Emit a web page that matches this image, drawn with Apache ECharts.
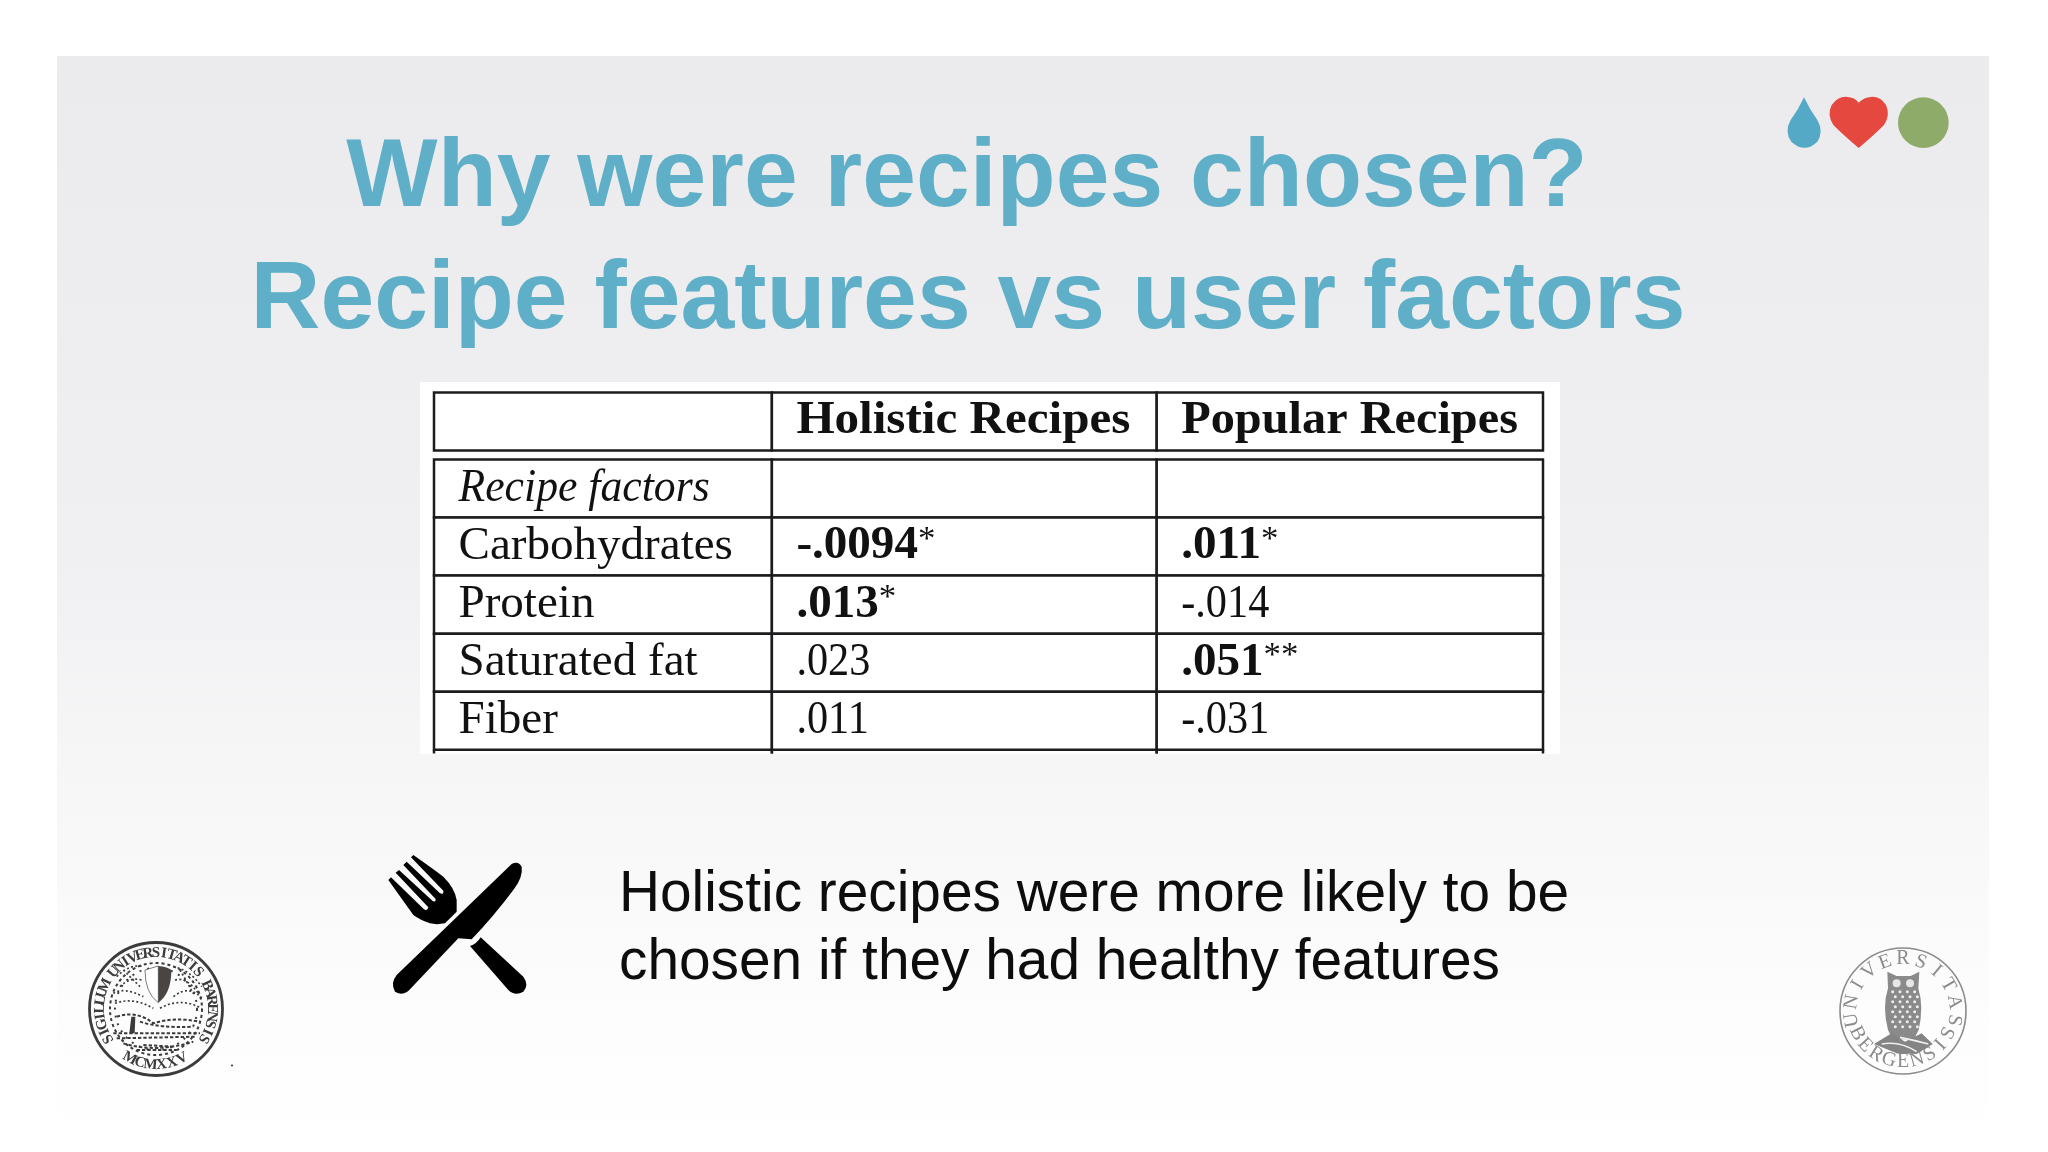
<!DOCTYPE html>
<html>
<head>
<meta charset="utf-8">
<title>Recipe features vs user factors</title>
<script src="https://cdn.jsdelivr.net/npm/echarts@6/dist/echarts.min.js"></script>
<style>
  html, body { margin: 0; background: #fff; }
  #main { width: 2048px; height: 1152px; }
</style>
</head>
<body>
<div id="main"></div>
<script>
const titleLines = ['Why were recipes chosen?', 'Recipe features vs user factors'];
const noteLines = ['Holistic recipes were more likely to be', 'chosen if they had healthy features'];

const columnHeaders = ['', 'Holistic Recipes', 'Popular Recipes'];
const rowLabels = ['Recipe factors', 'Carbohydrates', 'Protein', 'Saturated fat', 'Fiber'];
const holisticValues = ['', '-.0094', '.013', '.023', '.011'];
const holisticStars = ['', '*', '*', '', ''];
const popularValues = ['', '.011', '-.014', '.051', '-.031'];
const popularStars = ['', '*', '', '**', ''];

// table layout, x in units of the value axis (0..3), y in row heights
const colEdges = [0, 0.914, 1.955, 3];
const bodyTop = 1.155;
const tableEnd = 6.22;

const cells = [];
columnHeaders.forEach((h, c) => cells.push({ value: [c, 0], text: h, stars: '', kind: c === 2 ? 'head2' : 'head' }));
rowLabels.forEach((label, i) => {
  cells.push({ value: [0, i + 1], text: label, stars: '', kind: i === 0 ? 'italic' : 'label' });
  cells.push({ value: [1, i + 1], text: holisticValues[i], stars: holisticStars[i], kind: holisticStars[i] ? 'bold' : 'number' });
  cells.push({ value: [2, i + 1], text: popularValues[i], stars: popularStars[i], kind: popularStars[i] ? 'bold' : 'number' });
});

const SERIF = '"Liberation Serif", "DejaVu Serif", serif';
const LINE = '#1c1c1e';
// glyph widths of the source table are narrower than Liberation Serif
const kindScale = { head: 1.067, head2: 1.05, italic: 0.95, label: 1.023, number: 0.92, bold: 1.023 };

function cellFont(kind) {
  if (kind === 'head' || kind === 'head2' || kind === 'bold') return 'bold 46px ' + SERIF;
  if (kind === 'italic') return 'italic 46px ' + SERIF;
  return '46px ' + SERIF;
}

function renderCell(params, api) {
  const c = api.value(0);
  const r = api.value(1);
  const cell = cells[params.dataIndex];
  const top = r === 0 ? 0 : bodyTop + r - 1;
  const bottom = r === 0 ? 1 : top + 1;
  const p0 = api.coord([colEdges[c], top]);
  const p1 = api.coord([colEdges[c + 1], bottom]);
  const children = [{
    type: 'rect',
    shape: { x: p0[0], y: p0[1], width: p1[0] - p0[0], height: p1[1] - p0[1] },
    style: { fill: '#fff', stroke: LINE, lineWidth: 2.5 }
  }];
  if (r === rowLabels.length) {
    const stub = api.coord([0, tableEnd])[1];
    [p0[0], p1[0]].forEach(x => children.push({
      type: 'line',
      shape: { x1: x, y1: p1[1], x2: x, y2: stub },
      style: { stroke: LINE, lineWidth: 2.5 }
    }));
  }
  if (cell.text) {
    const starTag = cell.stars ? '{s|' + cell.stars + '}' : '';
    children.push({
      type: 'text',
      x: p0[0] + 24.5,
      y: (p0[1] + p1[1]) / 2,
      scaleX: kindScale[cell.kind],
      z2: 5,
      style: {
        text: '{t|' + cell.text + '}' + starTag,
        verticalAlign: 'middle',
        align: 'left',
        rich: {
          t: { font: cellFont(cell.kind), fill: '#111', lineHeight: 48 },
          s: { font: '34px ' + SERIF, fill: '#111', lineHeight: 48, verticalAlign: 'top' }
        }
      }
    });
  }
  return { type: 'group', children };
}

// one letter per text element, spread along a circle. angles clockwise from 12 o'clock
function ringText(str, cx, cy, r, fromDeg, toDeg, font, fill, flip) {
  const out = [];
  const n = str.length;
  for (let i = 0; i < n; i++) {
    const deg = fromDeg + (toDeg - fromDeg) * i / (n - 1);
    const a = deg * Math.PI / 180;
    const tilt = flip ? deg - 180 : deg;
    out.push({
      type: 'text',
      x: cx + r * Math.sin(a),
      y: cy - r * Math.cos(a),
      rotation: -tilt * Math.PI / 180,
      style: { text: str[i], font, fill, align: 'center', verticalAlign: 'middle' }
    });
  }
  return out;
}

function ring(cx, cy, r, stroke, lineWidth, lineDash) {
  return {
    type: 'circle',
    shape: { cx, cy, r },
    style: { fill: 'none', stroke, lineWidth, lineDash }
  };
}

function barisSeal() {
  const cx = 156, cy = 1009, ink = '#3c3a3a';
  return [
    ring(cx, cy, 66.5, ink, 2.8),
    ring(cx, cy, 46, ink, 2, [3, 3]),
    ring(cx, cy, 41, ink, 2, [2, 6]),
    ...ringText('SIGILLUM UNIVERSITATIS BARENSIS', cx, cy, 56, -122, 122, 'bold 15px ' + SERIF, ink),
    ...ringText('MCMXXV', cx, cy, 56, 208, 152, 'bold 15px ' + SERIF, ink, true),
    { type: 'group', x: 60, y: 820, scaleX: 1 / 3, scaleY: 1 / 3, children: [
      { type: 'path', shape: { pathData: 'M255 450 L295 438 L295 548 Q255 520 255 450 Z' }, style: { fill: '#fff', stroke: ink, lineWidth: 2 } },
      { type: 'path', shape: { pathData: 'M295 438 Q320 440 334 450 Q334 520 295 548 Z' }, style: { fill: '#4a4543' } },
      { type: 'path', shape: { pathData: 'M170 470 Q210 430 250 440 M340 440 Q390 450 425 500 M160 520 Q190 500 250 530 M340 530 Q390 490 430 540 M180 500 Q210 470 245 480 M345 480 Q380 470 415 520 M165 550 Q220 530 280 565 M300 565 Q360 530 425 565 M190 450 L240 500 M360 450 L400 520' }, style: { fill: 'none', stroke: ink, lineWidth: 5, lineDash: [6, 7] } },
      { type: 'path', shape: { pathData: 'M170 590 Q230 570 280 610 Q340 590 420 605 M160 640 L420 640 M190 670 Q290 700 400 665 M230 690 L350 690 M240 605 Q300 625 400 620 M170 655 L410 650 M250 675 L340 680' }, style: { fill: 'none', stroke: ink, lineWidth: 6, lineDash: [10, 6] } },
      { type: 'path', shape: { pathData: 'M214 590 L226 590 L224 640 L208 640 Z' }, style: { fill: ink } }
    ] },
    { type: 'circle', shape: { cx: 232, cy: 1065.5, r: 1 }, style: { fill: '#333' } }
  ];
}

function bergenSeal() {
  const cx = 1903, cy = 1011, ink = '#8b8b8c';
  const spots = [];
  for (let row = 0; row < 8; row++) {
    for (let col = 0; col < 4; col++) {
      spots.push({
        type: 'circle',
        shape: { cx: 278 + col * 22 + (row % 2) * 8, cy: 215 + row * 15, r: 4.5 },
        style: { fill: '#eeeeef' }
      });
    }
  }
  return [
    ring(cx, cy, 63, ink, 1.6),
    ...ringText('UNIVERSITAS', cx, cy, 52, -100, 100, '20px ' + SERIF, ink),
    ...ringText('BERGENSIS', cx, cy, 51, 244, 116, '20px ' + SERIF, ink, true),
    { type: 'group', x: 1800, y: 920, scaleX: 1 / 3, scaleY: 1 / 3, children: [
      { type: 'path', shape: { pathData: 'M262 155 L290 168 L332 168 L358 155 L355 205 Q372 260 356 330 L342 358 L278 358 L264 330 Q246 260 264 205 Z' }, style: { fill: '#8a8a8b' } },
      ...spots,
      { type: 'circle', shape: { cx: 290, cy: 190, r: 12 }, style: { fill: '#e6e6e7' } },
      { type: 'circle', shape: { cx: 330, cy: 190, r: 12 }, style: { fill: '#e6e6e7' } },
      { type: 'path', shape: { pathData: 'M222 372 L275 340 L315 365 L365 340 L398 372 L350 402 L290 400 Z' }, style: { fill: '#848485' } },
      { type: 'path', shape: { pathData: 'M245 372 Q300 362 350 395 M300 352 Q340 360 385 372' }, style: { fill: 'none', stroke: '#f0f0f1', lineWidth: 5 } }
    ] }
  ];
}

function cutlery() {
  return {
    type: 'group', x: 60, y: 820, scaleX: 1 / 3, scaleY: 1 / 3,
    children: [
      { type: 'path', style: { fill: '#000' }, shape: { pathData:
        'M1060 105 Q1110 140 1150 170 Q1185 205 1190 240 L1190 275 L1155 310 Q1130 315 1110 310 Q1080 300 1060 285 L985 180 L993 172 L1092 268 Q1102 275 1105 262 L1007 158 L1017 150 L1118 243 Q1128 248 1127 237 L1030 135 L1040 125 L1140 220 Q1152 225 1150 212 L1053 112 Z' } },
      { type: 'path', style: { fill: '#000' }, shape: { pathData:
        'M1010 465 L1355 132 Q1375 122 1385 140 Q1390 170 1360 210 Q1300 290 1235 358 L1195 355 L1050 508 Q1030 530 1005 515 Q990 490 1010 465 Z' } },
      { type: 'path', style: { fill: '#000' }, shape: { pathData:
        'M1230 378 Q1250 372 1262 352 L1390 470 Q1408 495 1390 515 Q1365 530 1345 510 Z' } }
    ]
  };
}

function badges() {
  return {
    type: 'group', x: 1760, y: 60, scaleX: 1 / 3, scaleY: 1 / 3,
    children: [
      { type: 'path', style: { fill: '#53a9c6' }, shape: { pathData:
        'M132 112 Q150 150 172 180 Q192 215 172 245 Q134 282 94 245 Q72 215 92 180 Q115 150 132 112 Z' } },
      { type: 'path', style: { fill: '#e5483f' }, shape: { pathData:
        'M296 264 Q250 225 220 195 Q200 165 215 135 Q240 100 280 115 Q290 120 296 128 Q304 120 315 115 Q355 100 378 135 Q392 165 372 195 Q342 225 296 264 Z' } },
      { type: 'circle', shape: { cx: 490, cy: 188, r: 76 }, style: { fill: '#8fab69' } }
    ]
  };
}

function renderDecor() {
  return { type: 'group', children: [badges(), cutlery(), ...barisSeal(), ...bergenSeal()] };
}

const panel = {
  type: 'rect', z: -10,
  shape: { x: 57, y: 56, width: 1932, height: 1096 },
  style: { fill: { type: 'linear', x: 0, y: 0, x2: 0, y2: 1, colorStops: [
    { offset: 0, color: '#ebebed' },
    { offset: 0.45, color: '#f0f0f2' },
    { offset: 0.68, color: '#f7f7f8' },
    { offset: 0.88, color: '#fdfdfd' },
    { offset: 1, color: '#ffffff' }
  ] } }
};

const tablePaper = {
  type: 'rect', z: -5,
  shape: { x: 420, y: 382, width: 1140, height: 372 },
  style: { fill: '#fff' }
};

const TITLE_FONT = 'bold 96.7px "Liberation Sans", Arial, sans-serif';
const NOTE_FONT = '56.8px "Liberation Sans", Arial, sans-serif';

const slideText = [
  { type: 'text', x: 967, y: 131, style: { text: titleLines[0], font: TITLE_FONT, fill: '#5eafc7', align: 'center', verticalAlign: 'top' } },
  { type: 'text', x: 968, y: 253, style: { text: titleLines[1], font: TITLE_FONT, fill: '#5eafc7', align: 'center', verticalAlign: 'top' } },
  { type: 'text', x: 619, y: 867, style: { text: noteLines[0], font: NOTE_FONT, fill: '#0d0d0d', align: 'left', verticalAlign: 'top' } },
  { type: 'text', x: 619, y: 935, style: { text: noteLines[1], font: NOTE_FONT, fill: '#0d0d0d', align: 'left', verticalAlign: 'top' } }
];

const chart = echarts.init(document.getElementById('main'));
chart.setOption({
  animation: false,
  backgroundColor: '#fff',
  grid: { left: 434, top: 392.5, width: 1109, height: 361 },
  xAxis: { type: 'value', min: 0, max: 3, show: false },
  yAxis: { type: 'value', min: 0, max: tableEnd, inverse: true, show: false },
  graphic: [panel, tablePaper, ...slideText],
  series: [{
    type: 'custom',
    coordinateSystem: 'cartesian2d',
    clip: false,
    renderItem: renderCell,
    data: cells
  }, {
    type: 'custom',
    coordinateSystem: 'none',
    silent: true,
    renderItem: renderDecor,
    data: [[0]]
  }]
});
window.addEventListener('resize', () => chart.resize());
</script>
</body>
</html>
